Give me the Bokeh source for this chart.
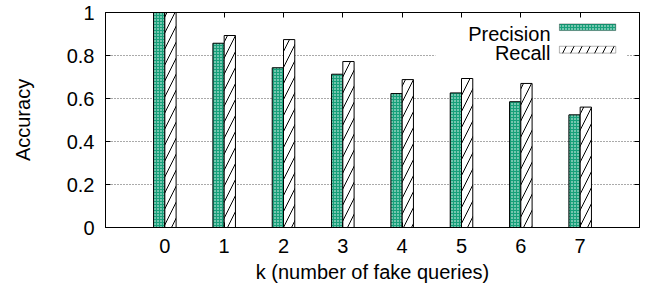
from bokeh.plotting import figure
from bokeh.models import (ColumnDataSource, FixedTicker, LinearAxis, BoxAnnotation, Label,
                          CustomJSTickFormatter)
from bokeh.transform import dodge
from bokeh.embed import file_html
from bokeh.resources import INLINE

k = [0, 1, 2, 3, 4, 5, 6, 7]
precision = [1.0, 0.857, 0.743, 0.713, 0.623, 0.626, 0.585, 0.524]
recall = [1.0, 0.893, 0.874, 0.772, 0.688, 0.693, 0.670, 0.560]
y_ticks = [0, 0.2, 0.4, 0.6, 0.8, 1]
y_labels = {0: "0", 0.2: "0.2", 0.4: "0.4", 0.6: "0.6", 0.8: "0.8", 1: "1"}
series_names = ["Precision", "Recall"]

FONT = "Liberation Sans"
FS = "20px"
GREEN = "#17a07a"

src = ColumnDataSource(dict(k=k, precision=precision, recall=recall))

p = figure(frame_width=534, frame_height=215, x_range=(-1, 8), y_range=(0, 1),
           output_backend="svg", toolbar_location=None,
           min_border_left=105, min_border_top=12, min_border_right=6, min_border_bottom=0)

p.outline_line_color = "black"
p.outline_line_width = 1
p.background_fill_color = "white"
p.border_fill_color = "white"

bw = 0.19
p.vbar(x=dodge("k", -bw / 2, range=p.x_range), top="precision", width=bw, source=src,
       fill_color=GREEN, line_color="black", line_width=1,
       hatch_pattern="dot", hatch_color="white", hatch_scale=3, hatch_weight=1.7)
p.vbar(x=dodge("k", bw / 2, range=p.x_range), top="recall", width=bw, source=src,
       fill_color="white", line_color="black", line_width=1,
       hatch_pattern="right_diagonal_line", hatch_color="black", hatch_scale=16, hatch_weight=1)

# axes
xa = p.xaxis[0]
xa.ticker = FixedTicker(ticks=k)
xa.axis_label = "k (number of fake queries)"
ya = p.yaxis[0]
ya.ticker = FixedTicker(ticks=y_ticks)
ya.major_label_overrides = y_labels
ya.axis_label = "Accuracy"
for ax in (xa, ya):
    ax.major_label_text_font = FONT
    ax.major_label_text_font_size = FS
    ax.axis_label_text_font = FONT
    ax.axis_label_text_font_size = FS
    ax.axis_label_text_font_style = "normal"
    ax.major_label_text_color = "black"
    ax.axis_label_text_color = "black"
    ax.major_tick_in = 5
    ax.major_tick_out = 0
    ax.minor_tick_in = 0
    ax.minor_tick_out = 0
    ax.axis_line_color = "black"
    ax.major_tick_line_color = "black"
xa.major_label_standoff = 11
xa.axis_label_standoff = 5
ya.major_label_standoff = 11
ya.axis_label_standoff = 30

for loc, ticks in (("above", k), ("right", y_ticks)):
    ax = LinearAxis(ticker=FixedTicker(ticks=ticks),
                    formatter=CustomJSTickFormatter(code="return ''"),
                    major_label_standoff=0, major_tick_in=5, major_tick_out=0,
                    minor_tick_in=0, minor_tick_out=0, axis_line_color="black",
                    major_tick_line_color="black")
    p.add_layout(ax, loc)

p.xgrid.visible = False
p.ygrid.ticker = FixedTicker(ticks=[0.2, 0.4, 0.6, 0.8])
p.ygrid.grid_line_color = "#555555"
p.ygrid.grid_line_dash = "1 2"
p.ygrid.grid_line_width = 1

# legend (gnuplot style: text left, sample right), opaque background
p.add_layout(BoxAnnotation(left=4.56, right=7.79, bottom=0.77, top=0.83,
                           fill_color="white", fill_alpha=1, line_alpha=0, level="underlay"))
legend_rows = [
    dict(name=series_names[0], base=0.901, bot=0.916, top=0.947,
         fill=GREEN, hatch="dot", hcol="white", hs=3, hw=1.7),
    dict(name=series_names[1], base=0.811, bot=0.811, top=0.843,
         fill="white", hatch="right_diagonal_line", hcol="black", hs=16, hw=1),
]
for r in legend_rows:
    p.add_layout(Label(x=6.5, y=r["base"], text=r["name"], text_align="right",
                       text_baseline="alphabetic", text_font=FONT, text_font_size=FS,
                       text_color="black"))
    p.add_layout(BoxAnnotation(left=6.65, right=7.6, bottom=r["bot"], top=r["top"],
                               fill_color=r["fill"], fill_alpha=1, line_color="black",
                               line_width=1, hatch_pattern=r["hatch"], hatch_color=r["hcol"],
                               hatch_scale=r["hs"], hatch_weight=r["hw"]))

open("out.html", "w").write(file_html(p, INLINE))
